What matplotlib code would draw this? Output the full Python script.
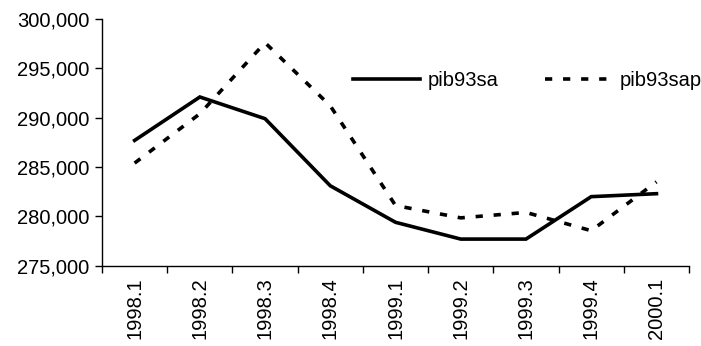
import matplotlib
matplotlib.use("Agg")
import matplotlib.pyplot as plt
from matplotlib.ticker import FuncFormatter, FixedLocator

categories = ["1998.1", "1998.2", "1998.3", "1998.4", "1999.1",
              "1999.2", "1999.3", "1999.4", "2000.1"]
pib93sa = [287700, 292100, 289900, 283100, 279400, 277700, 277700, 282000, 282300]
pib93sap = [285400, 290400, 297600, 291200, 281100, 279850, 280400, 278550, 283500]
yticks = [275000, 280000, 285000, 290000, 295000, 300000]

plt.rcParams['font.family'] = ['Liberation Sans', 'DejaVu Sans']

fig = plt.figure(figsize=(7.01, 3.46), dpi=100)
ax = fig.add_axes([0.1455, 0.232, 0.8375, 0.713])

x = list(range(len(categories)))
ax.plot(x, pib93sa, color='black', lw=2.6, label='pib93sa', solid_joinstyle='miter')
ax.plot(x, pib93sap, color='black', lw=2.6, dashes=(2.0, 3.0), label='pib93sap')

ax.set_xlim(-0.5, len(categories) - 0.5)
ax.set_ylim(275000, 300000)
ax.set_yticks(yticks)
ax.yaxis.set_major_formatter(FuncFormatter(lambda v, p: f"{int(v):,}"))
ax.set_xticks(x)
ax.set_xticklabels(categories, rotation=90, fontsize=14.5)
ax.tick_params(axis='x', which='major', length=0, pad=8.5)
ax.xaxis.set_minor_locator(FixedLocator([i - 0.5 for i in range(len(categories) + 1)]))
ax.tick_params(axis='x', which='minor', length=5, width=1, direction='out')
ax.tick_params(axis='y', length=5, width=1, direction='out', labelsize=14.5, pad=4)

for s in ['top', 'right']:
    ax.spines[s].set_visible(False)
for s in ['left', 'bottom']:
    ax.spines[s].set_linewidth(1)

leg = ax.legend(loc='center left', bbox_to_anchor=(0.428, 0.752), ncol=2, frameon=False,
                fontsize=14.5, handlelength=3.3, handletextpad=0.4, columnspacing=2.3,
                borderaxespad=0, borderpad=0)

fig.savefig("out.png", dpi=100)
